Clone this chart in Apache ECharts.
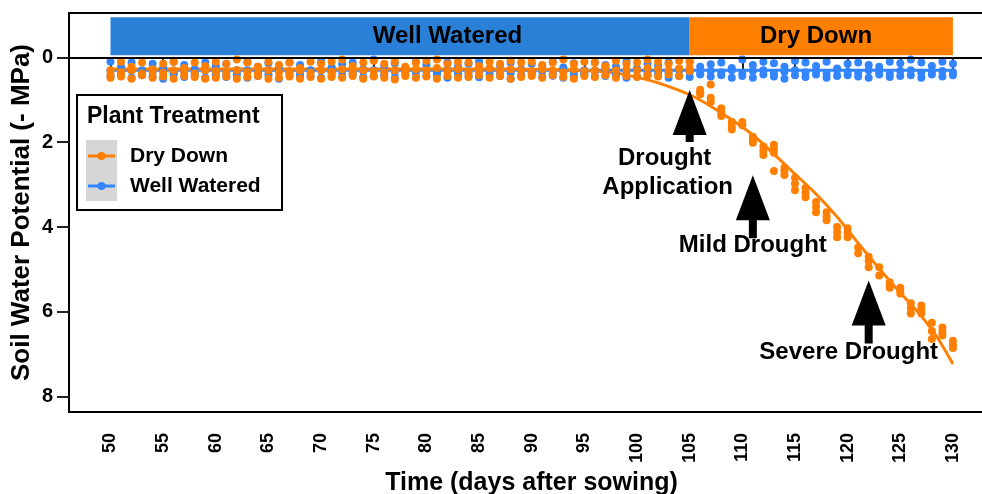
<!DOCTYPE html>
<html><head><meta charset="utf-8">
<script src="https://cdn.jsdelivr.net/npm/echarts@6/dist/echarts.min.js"></script>
<style>html,body{margin:0;padding:0;background:#fff}#c{width:982px;height:494px}</style>
</head><body><div id="c"></div>
<script>
// ---------- data ----------
const firstDay = 50;
// Well Watered: three readings per day, days 50..130
const wwRep1 = [0.10,0.22,0.12,0.30,0.15,0.25,0.10,0.18,0.28,0.12,
                0.20,0.15,0.30,0.10,0.22,0.14,0.26,0.12,0.18,0.30,
                0.10,0.24,0.16,0.12,0.28,0.05,0.20,0.14,0.25,0.10,
                0.18,0.30,0.12,0.22,0.15,0.10,0.26,0.18,0.12,0.28,
                0.15,0.20,0.10,0.24,0.14,0.30,0.12,0.18,0.22,0.10,
                0.26,0.15,0.20,0.12,0.28,0.10,0.22,0.16,0.12,0.25,
                0.05,0.18,0.10,0.14,0.22,0.08,0.12,0.20,0.10,0.26,
                0.15,0.12,0.18,0.22,0.10,0.14,0.05,0.12,0.20,0.10,
                0.15];
const wwRep2 = [0.32,0.35,0.30,0.38,0.33,0.30,0.36,0.32,0.35,0.30,
                0.34,0.38,0.32,0.30,0.36,0.33,0.30,0.35,0.38,0.32,
                0.30,0.35,0.33,0.38,0.32,0.30,0.36,0.34,0.30,0.35,
                0.32,0.36,0.30,0.35,0.38,0.32,0.30,0.34,0.36,0.30,
                0.35,0.32,0.38,0.30,0.34,0.36,0.32,0.30,0.35,0.33,
                0.30,0.36,0.32,0.35,0.30,0.34,0.38,0.32,0.35,0.30,
                0.36,0.32,0.30,0.38,0.34,0.30,0.35,0.32,0.38,0.30,
                0.34,0.36,0.30,0.35,0.38,0.32,0.30,0.36,0.34,0.32,
                0.35];
const wwRep3 = [0.45,0.40,0.48,0.42,0.45,0.50,0.40,0.46,0.42,0.48,
                0.42,0.46,0.40,0.48,0.44,0.42,0.50,0.40,0.45,0.43,
                0.48,0.42,0.45,0.40,0.47,0.44,0.42,0.48,0.40,0.46,
                0.44,0.40,0.48,0.42,0.45,0.47,0.40,0.44,0.50,0.42,
                0.40,0.46,0.43,0.48,0.42,0.40,0.45,0.44,0.40,0.48,
                0.45,0.42,0.40,0.48,0.44,0.46,0.40,0.45,0.42,0.48,
                0.44,0.48,0.40,0.45,0.50,0.42,0.46,0.40,0.48,0.44,
                0.42,0.45,0.48,0.40,0.46,0.44,0.42,0.48,0.40,0.45,
                0.42];
// Dry Down before drought application: three readings per day, days 50..104
const ddRep1 = [0.30,0.10,0.22,0.12,0.28,0.15,0.10,0.25,0.12,0.20,
                0.10,0.15,0.05,0.12,0.22,0.10,0.18,0.12,0.25,0.10,
                0.15,0.10,0.05,0.20,0.12,0.08,0.15,0.10,0.22,0.12,
                0.08,0.05,0.15,0.10,0.12,0.20,0.10,0.15,0.08,0.12,
                0.10,0.18,0.12,0.05,0.15,0.10,0.12,0.20,0.08,0.15,
                0.12,0.05,0.10,0.15,0.08];
const ddRep2 = [0.40,0.35,0.30,0.38,0.32,0.36,0.30,0.34,0.38,0.30,
                0.32,0.36,0.30,0.34,0.38,0.30,0.35,0.32,0.30,0.36,
                0.30,0.34,0.28,0.36,0.30,0.32,0.35,0.30,0.34,0.28,
                0.30,0.25,0.32,0.28,0.34,0.30,0.26,0.32,0.28,0.30,
                0.32,0.28,0.30,0.35,0.28,0.32,0.30,0.26,0.30,0.28,
                0.30,0.25,0.28,0.30,0.26];
const ddRep3 = [0.48,0.45,0.50,0.42,0.48,0.45,0.50,0.44,0.46,0.50,
                0.48,0.45,0.50,0.46,0.44,0.50,0.48,0.45,0.50,0.46,
                0.50,0.46,0.48,0.44,0.50,0.45,0.48,0.52,0.44,0.48,
                0.45,0.50,0.44,0.48,0.46,0.42,0.48,0.44,0.50,0.46,
                0.44,0.48,0.42,0.46,0.50,0.44,0.46,0.42,0.48,0.44,
                0.46,0.42,0.45,0.40,0.44];
// Dry Down after drought application (day, value)
const ddLate = [[105,0.10],[105,0.25],[105,0.32],
  [106,0.76],[106,0.82],[106,0.87],
  [107,0.64],[107,0.95],[107,1.05],
  [108,1.20],[108,1.30],[108,1.38],
  [109,1.52],[109,1.62],[109,1.70],
  [110,1.52],[110,1.60],
  [111,1.87],[111,1.95],[111,2.01],
  [112,2.10],[112,2.20],[112,2.30],
  [113,2.06],[113,2.15],[113,2.25],[113,2.68],
  [114,2.60],[114,2.68],[114,2.77],
  [115,2.84],[115,2.98],[115,3.13],
  [116,3.08],[116,3.20],[116,3.30],
  [117,3.41],[117,3.53],[117,3.65],
  [118,3.65],[118,3.75],[118,3.84],
  [119,4.00],[119,4.12],[119,4.24],
  [120,4.03],[120,4.14],[120,4.24],
  [121,4.48],[121,4.62],
  [122,4.70],[122,4.80],[122,4.95],
  [123,4.95],[123,5.14],
  [124,5.30],[124,5.38],[124,5.43],
  [125,5.43],[125,5.50],[125,5.57],
  [126,5.80],[126,5.92],[126,6.04],
  [127,5.85],[127,5.95],[127,6.04],
  [128,6.26],[128,6.45],[128,6.64],
  [129,6.37],[129,6.47],[129,6.56],
  [130,6.68],[130,6.78],[130,6.85]];
// fitted trend lines
const ddFitDays   = [50,60,70,80,90,95,98,100,102,105,107,109,111,113,115,117,119,121,123,125,127,128.5,130];
const ddFitValues = [0.27,0.27,0.27,0.27,0.28,0.31,0.37,0.47,0.60,0.88,1.15,1.47,1.83,2.28,2.75,3.22,3.76,4.38,4.98,5.55,6.10,6.60,7.23];
const wwFitDays   = [50,70,90,110,130];
const wwFitValues = [0.30,0.30,0.30,0.30,0.30];
// treatment phases (top band)
const phaseNames = ['Well Watered','Dry Down'];
const phaseStart = [50,105];
const phaseEnd   = [105,130];
const phaseLabelDay = [82,117];
// annotations
const annoDay = [105,111,122];
const annoTip = [0.77,2.78,5.26];
const annoText = [['Drought','Application'],['Mild Drought'],['Severe Drought']];
// ticks
const xTicks = [50,55,60,65,70,75,80,85,90,95,100,105,110,115,120,125,130];
const yTicks = [0,2,4,6,8];
const seriesNames = ['Dry Down','Well Watered'];

// ---------- chart ----------
const FONT = '"Liberation Sans", Arial, sans-serif';
const ORANGE = '#FF8000', BLUE = '#3385FF', BLUEBAR = '#2A7FD6';
const repPts = (rep, start) => rep.map((v,i)=>[start+i, v]);
const wwPts = [].concat(repPts(wwRep1,firstDay), repPts(wwRep2,firstDay), repPts(wwRep3,firstDay));
const ddPts = [].concat(repPts(ddRep1,firstDay), repPts(ddRep2,firstDay), repPts(ddRep3,firstDay), ddLate);
const ddFit = ddFitDays.map((d,i)=>[d, ddFitValues[i]]);
const wwFit = wwFitDays.map((d,i)=>[d, wwFitValues[i]]);

const chart = echarts.init(document.getElementById('c'));
const boldTxt = (size) => ({fontFamily:FONT, fontWeight:'bold', fontSize:size, color:'#000'});

chart.setOption({
  animation:false,
  grid:{left:69, top:13, width:925, height:399, show:true, borderColor:'#000', borderWidth:2,
    containLabel:false, outerBoundsMode:'none'},
  xAxis:{type:'value', min:46.06, max:133.9,
    axisLine:{show:true, lineStyle:{color:'#000', width:2}},
    axisTick:{show:true, customValues:xTicks, length:13, lineStyle:{color:'#222', width:2}},
    axisLabel:Object.assign({customValues:xTicks, rotate:90, margin:21}, boldTxt(18)),
    splitLine:{show:false},
    name:'Time (days after sowing)', nameLocation:'middle', nameGap:56,
    nameTextStyle:boldTxt(25)},
  yAxis:{type:'value', inverse:true, min:-1.048, max:8.362,
    axisLine:{show:true, lineStyle:{color:'#000', width:2}},
    axisTick:{show:true, customValues:yTicks, length:12, lineStyle:{color:'#222', width:2}},
    axisLabel:Object.assign({customValues:yTicks, margin:16}, boldTxt(20)),
    splitLine:{show:false},
    name:'Soil Water Potential (- MPa)', nameLocation:'middle', nameRotate:90, nameGap:34,
    nameMoveOverlap:false,
    nameTextStyle:boldTxt(26)},
  series:[
    {type:'line', name:seriesNames[1]+' fit', data:wwFit, showSymbol:false, symbol:'none',
      lineStyle:{color:BLUE, width:3}, z:2,
      markArea:{silent:true, data: phaseNames.map((n,i)=>[
        {xAxis:phaseStart[i], yAxis:-0.95, itemStyle:{color:i===0?BLUEBAR:ORANGE}},
        {xAxis:phaseEnd[i], yAxis:-0.05}])},
      markLine:{silent:true, symbol:'none', label:{show:false},
        lineStyle:{color:'#000', width:2, type:'solid'}, data:[{yAxis:0}]}},
    {type:'line', name:seriesNames[0]+' fit', data:ddFit, showSymbol:false, symbol:'none', smooth:0.3,
      lineStyle:{color:ORANGE, width:3}, z:2},
    {type:'scatter', name:seriesNames[1], data:wwPts, symbolSize:8, itemStyle:{color:BLUE, opacity:1}, z:3},
    {type:'scatter', name:seriesNames[0], data:ddPts, symbolSize:8, itemStyle:{color:ORANGE, opacity:1}, z:4}
  ]
});

// ---------- overlay graphics (legend, phase labels, annotations) ----------
const g = [];
phaseNames.forEach((n,i)=>{
  const p = chart.convertToPixel({gridIndex:0}, [phaseLabelDay[i], -0.5]);
  g.push({type:'text', x:p[0], y:p[1], z:10, style:{text:n, x:0, y:0, align:'center', verticalAlign:'middle',
    font:'bold 24px '+FONT, fill:'#000'}});
});
annoDay.forEach((d,i)=>{
  const p = chart.convertToPixel({gridIndex:0}, [d, annoTip[i]]);
  const tx = p[0], ty = p[1];
  const L = i===0 ? 52 : 63;
  g.push({type:'polygon', z:10, shape:{points:[[tx,ty],[tx+17,ty+45],[tx+4,ty+45],[tx+4,ty+L],[tx-4,ty+L],[tx-4,ty+45],[tx-17,ty+45]]},
    style:{fill:'#000'}});
  const offs = [[[-25,68],[-22,97]],[[0,70]],[[-20,72]]][i];
  annoText[i].forEach((t,j)=>{
    g.push({type:'text', z:10, x:tx+offs[j][0], y:ty+offs[j][1],
      style:{text:t, align:'center', verticalAlign:'middle', font:'bold 24px '+FONT, fill:'#000'}});
  });
});
// legend
g.push({type:'rect', z:20, shape:{x:77, y:95, width:205, height:115}, style:{fill:'#fff', stroke:'#000', lineWidth:2}});
g.push({type:'text', z:21, x:87, y:117, style:{text:'Plant Treatment', verticalAlign:'middle', font:'bold 23px '+FONT, fill:'#000'}});
g.push({type:'rect', z:21, shape:{x:86, y:140, width:31, height:61}, style:{fill:'#d6d6d6'}});
[[seriesNames[0], ORANGE, 156],[seriesNames[1], BLUE, 186]].forEach(([n,c,y])=>{
  g.push({type:'line', z:22, shape:{x1:88, y1:y, x2:115, y2:y}, style:{stroke:c, lineWidth:3}});
  g.push({type:'circle', z:22, shape:{cx:101.5, cy:y, r:4}, style:{fill:c}});
  g.push({type:'text', z:22, x:130, y:y, style:{text:n, verticalAlign:'middle', font:'bold 21px '+FONT, fill:'#000'}});
});
chart.setOption({graphic:g});
</script>
</body></html>
